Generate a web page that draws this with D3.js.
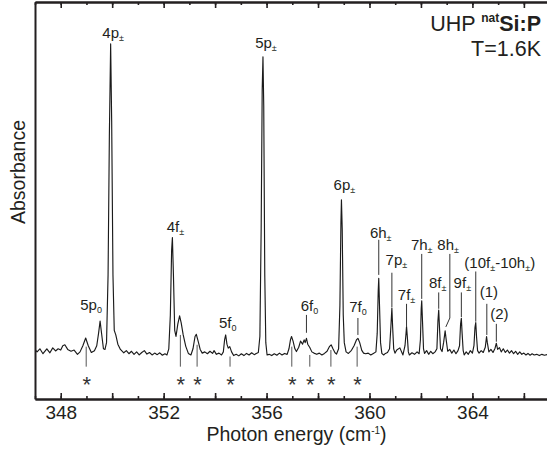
<!DOCTYPE html>
<html>
<head>
<meta charset="utf-8">
<script src="https://cdn.jsdelivr.net/npm/d3@7"></script>
<style>
  html, body { margin: 0; padding: 0; background: #fff; }
  svg { display: block; font-family: "Liberation Sans", Arial, Helvetica, sans-serif; }
</style>
</head>
<body>
<svg id="chart" width="547" height="452"></svg>
<script>
// Absorption spectrum: [photon energy (cm^-1), absorbance (arb. units)]
const spectrum = [
  [347.00, 0.007], [347.08, 0.000], [347.19, 0.010], [347.31, -0.006], [347.46, 0.010],
  [347.58, -0.003], [347.69, 0.013], [347.80, 0.003], [347.90, 0.010], [348.00, 0.006],
  [348.08, 0.020], [348.16, 0.023], [348.27, 0.008], [348.40, 0.002], [348.52, 0.006],
  [348.65, -0.008], [348.75, 0.000], [348.86, 0.020], [348.97, 0.045], [349.07, 0.020],
  [349.19, -0.002], [349.31, 0.004], [349.40, 0.020], [349.47, 0.060], [349.53, 0.100],
  [349.59, 0.058], [349.66, 0.010], [349.72, 0.008], [349.78, 0.030], [349.84, 0.250],
  [349.89, 0.700], [349.94, 1.000], [349.98, 0.750], [350.03, 0.250], [350.08, 0.070],
  [350.14, 0.055], [350.22, 0.025], [350.32, 0.008], [350.45, -0.003], [350.55, 0.004],
  [350.65, -0.006], [350.75, 0.002], [350.85, -0.008], [350.95, 0.000], [351.05, -0.010],
  [351.15, -0.002], [351.25, 0.004], [351.35, -0.007], [351.45, -0.002], [351.55, -0.010],
  [351.65, -0.004], [351.75, -0.009], [351.85, -0.003], [351.95, -0.011], [352.05, -0.006],
  [352.13, -0.010], [352.20, 0.010], [352.26, 0.120], [352.31, 0.330], [352.34, 0.371],
  [352.38, 0.250], [352.43, 0.070], [352.48, 0.050], [352.55, 0.090], [352.62, 0.117],
  [352.68, 0.095], [352.76, 0.055], [352.86, 0.018], [352.96, -0.005], [353.06, -0.010],
  [353.14, 0.010], [353.22, 0.050], [353.27, 0.057], [353.34, 0.035], [353.42, 0.008],
  [353.50, -0.004], [353.60, 0.000], [353.70, -0.006], [353.80, 0.002], [353.90, -0.005],
  [353.96, 0.004], [354.05, -0.008], [354.15, -0.004], [354.25, -0.010], [354.32, 0.000],
  [354.37, 0.040], [354.41, 0.055], [354.46, 0.025], [354.51, 0.012], [354.57, 0.017],
  [354.64, 0.000], [354.72, -0.012], [354.82, -0.008], [354.92, -0.013], [355.02, -0.006],
  [355.12, -0.012], [355.22, -0.005], [355.32, -0.010], [355.42, -0.003], [355.52, -0.009],
  [355.60, -0.005], [355.68, -0.002], [355.74, 0.050], [355.79, 0.400], [355.83, 0.850],
  [355.86, 0.958], [355.89, 0.800], [355.93, 0.250], [355.97, 0.030], [356.02, -0.010],
  [356.10, -0.008], [356.20, -0.012], [356.30, -0.006], [356.40, -0.011], [356.50, -0.004],
  [356.60, -0.010], [356.70, -0.005], [356.80, -0.008], [356.87, 0.010], [356.93, 0.040],
  [356.97, 0.050], [357.03, 0.035], [357.10, 0.010], [357.16, 0.001], [357.25, 0.015],
  [357.32, 0.035], [357.40, 0.025], [357.46, 0.039], [357.50, 0.030], [357.55, 0.044],
  [357.60, 0.025], [357.68, 0.014], [357.76, 0.000], [357.84, -0.004], [357.95, -0.008],
  [358.05, -0.004], [358.15, -0.010], [358.25, -0.005], [358.35, 0.002], [358.45, 0.018],
  [358.51, 0.023], [358.58, 0.010], [358.66, -0.003], [358.72, -0.007], [358.80, 0.010],
  [358.85, 0.150], [358.89, 0.420], [358.91, 0.494], [358.94, 0.400], [358.98, 0.120],
  [359.02, 0.030], [359.09, 0.000], [359.18, -0.005], [359.30, 0.005], [359.40, 0.020],
  [359.50, 0.040], [359.55, 0.044], [359.62, 0.030], [359.70, 0.005], [359.77, -0.004],
  [359.85, -0.006], [359.95, -0.004], [360.05, -0.010], [360.15, -0.005], [360.25, 0.000],
  [360.30, 0.060], [360.34, 0.200], [360.36, 0.239], [360.39, 0.150], [360.43, 0.030],
  [360.48, -0.005], [360.55, -0.010], [360.62, -0.005], [360.70, -0.002], [360.78, 0.010],
  [360.83, 0.080], [360.87, 0.142], [360.90, 0.080], [360.94, 0.010], [360.99, -0.004],
  [361.06, 0.006], [361.18, 0.013], [361.30, -0.010], [361.38, 0.020], [361.42, 0.060],
  [361.44, 0.082], [361.47, 0.050], [361.51, 0.000], [361.55, -0.010], [361.65, -0.003],
  [361.75, -0.008], [361.85, 0.000], [361.93, -0.006], [361.98, 0.040], [362.01, 0.140],
  [362.03, 0.166], [362.06, 0.100], [362.10, 0.010], [362.14, -0.005], [362.22, 0.004],
  [362.30, -0.008], [362.38, 0.002], [362.46, -0.006], [362.55, 0.000], [362.62, 0.010],
  [362.66, 0.100], [362.69, 0.136], [362.72, 0.080], [362.76, 0.010], [362.82, 0.001],
  [362.88, 0.030], [362.94, 0.068], [362.98, 0.040], [363.04, 0.002], [363.12, 0.008],
  [363.20, -0.004], [363.28, 0.006], [363.36, -0.006], [363.44, 0.004], [363.50, 0.020],
  [363.54, 0.090], [363.57, 0.109], [363.60, 0.060], [363.64, 0.005], [363.68, -0.010],
  [363.76, 0.000], [363.84, -0.008], [363.92, 0.004], [364.00, -0.004], [364.06, 0.020],
  [364.10, 0.080], [364.13, 0.095], [364.16, 0.050], [364.20, 0.004], [364.26, -0.004],
  [364.34, 0.004], [364.42, -0.002], [364.50, 0.015], [364.55, 0.050], [364.58, 0.030],
  [364.64, 0.000], [364.72, 0.008], [364.80, -0.002], [364.88, 0.012], [364.93, 0.028],
  [364.98, 0.008], [365.05, 0.014], [365.12, 0.000], [365.20, 0.010], [365.28, -0.002],
  [365.36, 0.006], [365.44, -0.004], [365.52, 0.004], [365.60, -0.006], [365.68, 0.002],
  [365.76, -0.008], [365.84, 0.000], [365.92, -0.008], [366.00, -0.004], [366.08, -0.010],
  [366.16, -0.005], [366.24, -0.011], [366.32, -0.006], [366.40, -0.010], [366.50, -0.008],
  [366.60, -0.012], [366.70, -0.008], [366.80, -0.011], [366.90, -0.009], [367.00, -0.010]
];

// Assigned transitions: label ("_x" = subscript x) and line energy (cm^-1)
const transitions = [
  { label: "5p_0",          energy: 349.53 },
  { label: "4p_±",          energy: 349.94 },
  { label: "4f_±",          energy: 352.34 },
  { label: "5f_0",          energy: 354.41 },
  { label: "5p_±",          energy: 355.86 },
  { label: "6f_0",          energy: 357.55 },
  { label: "6p_±",          energy: 358.91 },
  { label: "7f_0",          energy: 359.55 },
  { label: "6h_±",          energy: 360.36 },
  { label: "7p_±",          energy: 360.87 },
  { label: "7f_±",          energy: 361.44 },
  { label: "7h_±",          energy: 362.03 },
  { label: "8f_±",          energy: 362.69 },
  { label: "8h_±",          energy: 362.94 },
  { label: "9f_±",          energy: 363.57 },
  { label: "(10f_±-10h_±)", energy: 364.13 },
  { label: "(1)",           energy: 364.56 },
  { label: "(2)",           energy: 364.93 }
];

// Unassigned satellite features marked with an asterisk (cm^-1)
const satellites = [348.99, 352.65, 353.30, 354.58, 356.98, 357.68, 358.50, 359.52];

// Axis ticks (cm^-1)
const minorTicks = d3.range(347, 367, 1);
const majorTicks = d3.range(348, 367, 2);
const labeledTicks = [348, 352, 356, 360, 364];

// ---- label placement (pixel offset dx, label baseline and leader-line span in absorbance units)
const labelLayout = {
  "5p_0":          { dx: -9,  base: 0.136 },
  "4p_±":          { dx: 2.5, base: 1.019 },
  "4f_±":          { dx: 3,   base: 0.389 },
  "5f_0":          { dx: 2,   base: 0.079 },
  "5p_±":          { dx: 3,   base: 0.986 },
  "6f_0":          { dx: 3,   base: 0.133, line: [0.120, 0.062] },
  "6p_±":          { dx: 3,   base: 0.524 },
  "7f_0":          { dx: 0,   base: 0.128, line: [0.110, 0.055] },
  "6h_±":          { dx: 2,   base: 0.371, line: [0.364, 0.250] },
  "7p_±":          { dx: 4.5, base: 0.281, line: [0.257, 0.145] },
  "7f_±":          { dx: 0,   base: 0.169, line: [0.156, 0.083] },
  "7h_±":          { dx: 0,   base: 0.331, line: [0.318, 0.172] },
  "8f_±":          { dx: -1,  base: 0.207, line: [0.193, 0.140] },
  "8h_±":          { dx: 3,   base: 0.331, line: [0.318, 0.110], elbow: { dx: 4.7, end: 0.081 } },
  "9f_±":          { dx: 1,   base: 0.207, line: [0.193, 0.113] },
  "(10f_±-10h_±)": { dx: 24,  base: 0.272, line: [0.261, 0.098] },
  "(1)":           { dx: 2,   base: 0.178, line: [0.156, 0.055] },
  "(2)":           { dx: 3,   base: 0.107, line: [0.091, 0.033] }
};
const satelliteLineTop = [0.017, 0.055, 0.023, -0.015, 0.017, -0.010, 0.006, 0.017];
const satelliteLineBottom = -0.048;

// ---- chart
const ink = "#231f20";
const svg = d3.select("#chart");

const x = d3.scaleLinear().domain([347, 367]).range([35, 549.6]);
const y = d3.scaleLinear().domain([-0.153, 1.136]).range([399, 2]);

svg.append("defs").append("clipPath").attr("id", "plot-clip")
  .append("rect").attr("x", x(347)).attr("y", y(1.136))
  .attr("width", x(367) - x(347)).attr("height", y(-0.153) - y(1.136));

// spectrum
svg.append("path")
  .datum(spectrum)
  .attr("clip-path", "url(#plot-clip)")
  .attr("fill", "none")
  .attr("stroke", "#1b1b1b")
  .attr("stroke-width", 1.15)
  .attr("stroke-linejoin", "round")
  .attr("d", d3.line().x(d => x(d[0])).y(d => y(d[1])));

// text with "_x" subscripts
function richText(sel, str, size, subSize, shift) {
  sel.attr("font-size", size);
  const parts = str.split(/(_.)/).filter(s => s.length);
  let lowered = false;
  parts.forEach(p => {
    if (p[0] === "_" && p.length === 2) {
      sel.append("tspan").attr("font-size", subSize).attr("dy", lowered ? 0 : shift).text(p[1]);
      lowered = true;
    } else {
      sel.append("tspan").attr("dy", lowered ? -shift : 0).text(p);
      lowered = false;
    }
  });
}

// transition labels and leader lines
const ann = svg.append("g").attr("fill", ink);
transitions.forEach(t => {
  const L = labelLayout[t.label];
  const px = x(t.energy);
  const txt = ann.append("text")
    .attr("x", px + L.dx)
    .attr("y", y(L.base))
    .attr("text-anchor", "middle");
  richText(txt, t.label, 15, 9, 3);
  if (L.line) {
    const lx = L.elbow ? px + L.elbow.dx : px;
    ann.append("line")
      .attr("x1", lx).attr("x2", lx)
      .attr("y1", y(L.line[0])).attr("y2", y(L.line[1]))
      .attr("stroke", "#333").attr("stroke-width", 1);
    if (L.elbow) {
      ann.append("line")
        .attr("x1", lx).attr("y1", y(L.line[1]))
        .attr("x2", px + 0.7).attr("y2", y(L.elbow.end))
        .attr("stroke", "#333").attr("stroke-width", 1);
    }
  }
});

// satellite markers
satellites.forEach((e, i) => {
  ann.append("line")
    .attr("x1", x(e)).attr("x2", x(e))
    .attr("y1", y(satelliteLineTop[i])).attr("y2", y(satelliteLineBottom))
    .attr("stroke", "#555").attr("stroke-width", 1);
  ann.append("text")
    .attr("x", x(e) + 0.5)
    .attr("y", 392)
    .attr("text-anchor", "middle")
    .attr("font-size", 22)
    .attr("fill", "#333")
    .text("*");
});

// axes
function styleAxis(g) {
  g.select(".domain").attr("stroke", ink).attr("stroke-width", 2);
  g.selectAll(".tick line").attr("stroke", ink).attr("stroke-width", 1.6);
  g.selectAll(".tick text").attr("fill", ink)
    .attr("font-size", 19)
    .attr("font-family", "\"Liberation Sans\", Arial, Helvetica, sans-serif");
}

const yBottom = y(-0.153), yTop = y(1.136);

svg.append("g").attr("transform", `translate(0,${yBottom})`)
  .call(d3.axisBottom(x).tickValues(minorTicks).tickSizeInner(-3).tickSizeOuter(0).tickFormat(""))
  .call(styleAxis);
svg.append("g").attr("transform", `translate(0,${yBottom})`)
  .call(d3.axisBottom(x).tickValues(majorTicks).tickSizeInner(-6).tickSizeOuter(0).tickPadding(7)
    .tickFormat(d => labeledTicks.includes(d) ? d : ""))
  .call(styleAxis);

svg.append("g").attr("transform", `translate(0,${yTop})`)
  .call(d3.axisTop(x).tickValues(minorTicks).tickSizeInner(-3).tickSizeOuter(0).tickFormat(""))
  .call(styleAxis);
svg.append("g").attr("transform", `translate(0,${yTop})`)
  .call(d3.axisTop(x).tickValues(majorTicks).tickSizeInner(-6).tickSizeOuter(0).tickFormat(""))
  .call(styleAxis);

svg.append("g").attr("transform", `translate(${x(347)},0)`)
  .call(d3.axisLeft(y).tickValues([]).tickSizeOuter(0))
  .call(styleAxis);
svg.append("g").attr("transform", `translate(${x(367)},0)`)
  .call(d3.axisRight(y).tickValues([]).tickSizeOuter(0))
  .call(styleAxis);

// axis titles
const xt = svg.append("text")
  .attr("x", 296.5).attr("y", 440.5)
  .attr("text-anchor", "middle")
  .attr("font-size", 19.5).attr("fill", ink);
xt.append("tspan").text("Photon energy (cm");
xt.append("tspan").attr("font-size", 10).attr("dy", -7).text("-1");
xt.append("tspan").attr("dy", 7).text(")");

svg.append("text")
  .attr("transform", "translate(25,172) rotate(-90)")
  .attr("text-anchor", "middle")
  .attr("font-size", 19.5).attr("fill", ink)
  .text("Absorbance");

// sample description
const t1 = svg.append("text")
  .attr("x", 541).attr("y", 30.5)
  .attr("text-anchor", "end")
  .attr("font-size", 21.5).attr("fill", ink);
t1.append("tspan").text("UHP ");
t1.append("tspan").attr("font-size", 12).attr("font-weight", "bold").attr("dy", -9).text("nat");
t1.append("tspan").attr("font-weight", "bold").attr("dy", 9).text("Si:P");

svg.append("text")
  .attr("x", 541).attr("y", 55.5)
  .attr("text-anchor", "end")
  .attr("font-size", 21.5).attr("fill", ink)
  .text("T=1.6K");
</script>
</body>
</html>
